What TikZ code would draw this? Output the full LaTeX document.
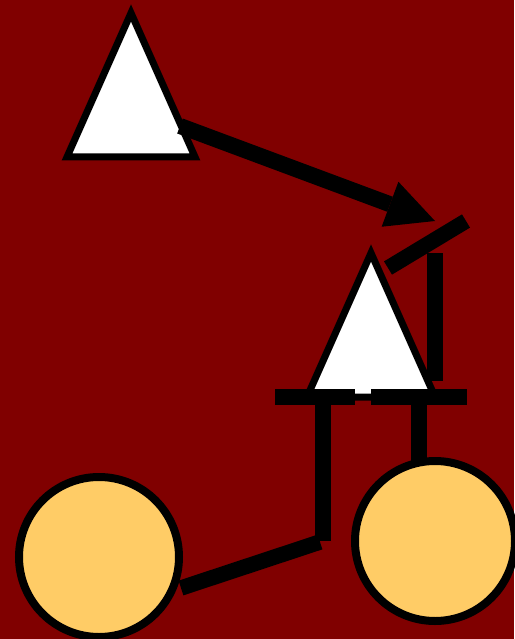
\documentclass[tikz,border=0pt]{standalone}
\usetikzlibrary{arrows.meta}
\definecolor{bgred}{HTML}{800000}
\definecolor{disc}{HTML}{FFCC66}
\begin{document}
\begin{tikzpicture}[x=1pt,y=-1pt,
  shapeline/.style={draw=black,fill=white,line width=7pt,line join=miter},
  discnode/.style={circle,draw=black,fill=disc,line width=8pt,minimum size=160pt,inner sep=0pt},
  thickline/.style={draw=black,line width=15.5pt,line cap=butt}]
\fill[bgred] (0,0) rectangle (514,639);
\useasboundingbox (0,0) rectangle (514,639);
% triangles
\coordinate (t1a) at (131,13);
\coordinate (t1l) at (67,157);
\coordinate (t1r) at (195,157);
\coordinate (t2a) at (371,253);
\coordinate (t2l) at (307,397);
\coordinate (t2r) at (435,397);
\filldraw[shapeline] (t1a) -- (t1l) -- (t1r) -- cycle;
\filldraw[shapeline] (t2a) -- (t2l) -- (t2r) -- cycle;
% connector end points
\coordinate (as) at (180,126);
\coordinate (ae) at (435,221);
\coordinate (da) at (388,268);
\coordinate (db) at (466,221);
\coordinate (va) at (435,253);
\coordinate (vb) at (435,381);
\coordinate (bla) at (275,397);
\coordinate (blb) at (355,397);
\coordinate (bra) at (371,397);
\coordinate (brb) at (467,397);
\coordinate (lva) at (323,397);
\coordinate (lvb) at (323,541);
\coordinate (lda) at (320,542);
\coordinate (ldb) at (181,588);
\coordinate (rva) at (419,397);
\coordinate (rvb) at (419,466);
% connectors
\draw[thickline,line width=16pt,-{Triangle[length=48pt,width=48pt,line width=0pt]}] (as) -- (ae);
\draw[thickline] (da) -- (db);
\draw[thickline] (va) -- (vb);
\draw[thickline] (bla) -- (blb);
\draw[thickline] (bra) -- (brb);
\draw[thickline] (lva) -- (lvb);
\draw[thickline] (lda) -- (ldb);
\draw[thickline] (rva) -- (rvb);
% discs
\node[discnode] (c1) at (99,557) {};
\node[discnode] (c2) at (435,541) {};
\end{tikzpicture}
\end{document}
